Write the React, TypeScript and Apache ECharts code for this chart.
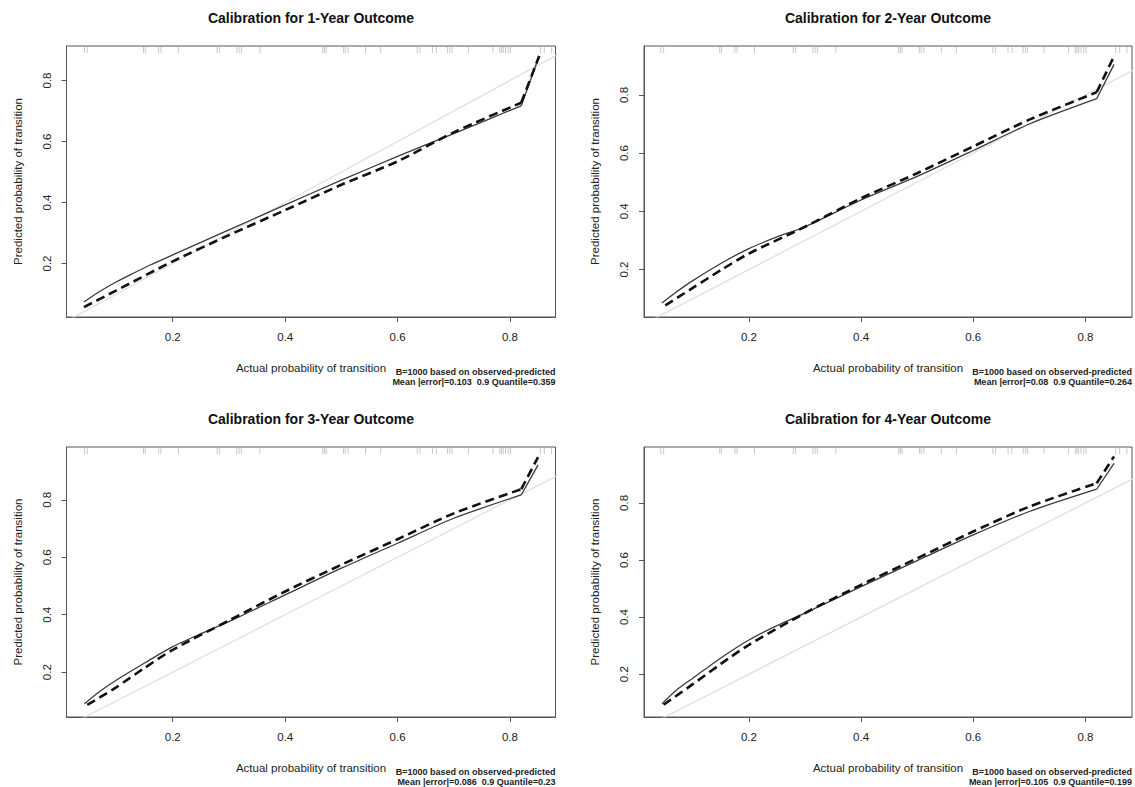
import React, { useEffect, useRef } from "react";
import * as echarts from "echarts";

const titles = [
  "Calibration for 1-Year Outcome",
  "Calibration for 2-Year Outcome",
  "Calibration for 3-Year Outcome",
  "Calibration for 4-Year Outcome",
];
const annot1 = "B=1000 based on observed-predicted";
const meanErr = [
  "Mean |error|=0.103  0.9 Quantile=0.359",
  "Mean |error|=0.08  0.9 Quantile=0.264",
  "Mean |error|=0.086  0.9 Quantile=0.23",
  "Mean |error|=0.105  0.9 Quantile=0.199",
];
const xName = "Actual probability of transition";
const yName = "Predicted probability of transition";
const tickValues = [0.2, 0.4, 0.6, 0.8];

const solid1X = [0.042, 0.07, 0.1, 0.13, 0.16, 0.2, 0.25, 0.3, 0.4, 0.5, 0.6, 0.7, 0.82, 0.852];
const solid1Y = [0.074, 0.108, 0.14, 0.168, 0.195, 0.228, 0.269, 0.31, 0.392, 0.473, 0.551, 0.626, 0.717, 0.88];
const dashed1X = [0.042, 0.1, 0.2, 0.3, 0.4, 0.5, 0.6, 0.7, 0.82, 0.852];
const dashed1Y = [0.057, 0.112, 0.207, 0.293, 0.375, 0.458, 0.535, 0.63, 0.727, 0.88];

const solid2X = [0.045, 0.07, 0.1, 0.15, 0.2, 0.25, 0.3, 0.4, 0.5, 0.6, 0.7, 0.82, 0.851];
const solid2Y = [0.085, 0.122, 0.162, 0.221, 0.272, 0.312, 0.347, 0.439, 0.52, 0.609, 0.7, 0.787, 0.905];
const dashed2X = [0.051, 0.1, 0.15, 0.2, 0.3, 0.4, 0.5, 0.6, 0.7, 0.82, 0.851];
const dashed2Y = [0.077, 0.137, 0.198, 0.255, 0.347, 0.445, 0.531, 0.623, 0.715, 0.809, 0.933];

const solid3X = [0.043, 0.07, 0.1, 0.15, 0.2, 0.25, 0.3, 0.4, 0.5, 0.6, 0.7, 0.82, 0.85];
const solid3Y = [0.09, 0.133, 0.173, 0.232, 0.289, 0.334, 0.376, 0.469, 0.562, 0.649, 0.736, 0.817, 0.922];
const dashed3X = [0.048, 0.1, 0.15, 0.2, 0.3, 0.4, 0.5, 0.6, 0.7, 0.82, 0.85];
const dashed3Y = [0.086, 0.148, 0.215, 0.278, 0.38, 0.481, 0.574, 0.663, 0.753, 0.837, 0.949];

const solid4X = [0.045, 0.07, 0.1, 0.15, 0.2, 0.25, 0.3, 0.4, 0.5, 0.6, 0.7, 0.82, 0.851];
const solid4Y = [0.096, 0.143, 0.186, 0.257, 0.32, 0.37, 0.414, 0.507, 0.598, 0.688, 0.77, 0.848, 0.939];
const dashed4X = [0.048, 0.1, 0.15, 0.2, 0.3, 0.4, 0.5, 0.6, 0.7, 0.82, 0.851];
const dashed4Y = [0.093, 0.165, 0.236, 0.303, 0.414, 0.513, 0.606, 0.7, 0.787, 0.869, 0.963];

const rugX = [
  0.043, 0.048, 0.148, 0.151, 0.175, 0.179, 0.21, 0.279, 0.283, 0.314, 0.318,
  0.322, 0.355, 0.467, 0.47, 0.473, 0.504, 0.507, 0.512, 0.543, 0.57, 0.635,
  0.64, 0.662, 0.669, 0.689, 0.693, 0.697, 0.726, 0.77, 0.782, 0.785, 0.788,
  0.792, 0.797, 0.801, 0.854, 0.861, 0.874,
];

const xRanges = [
  [0.011, 0.881],
  [0.013, 0.883],
  [0.011, 0.881],
  [0.013, 0.883],
];
const yRanges = [
  [0.0246, 0.913],
  [0.037, 0.968],
  [0.044, 0.984],
  [0.05, 0.996],
];

const solids = [
  [solid1X, solid1Y],
  [solid2X, solid2Y],
  [solid3X, solid3Y],
  [solid4X, solid4Y],
];
const dasheds = [
  [dashed1X, dashed1Y],
  [dashed2X, dashed2Y],
  [dashed3X, dashed3Y],
  [dashed4X, dashed4Y],
];

const grids = [
  { left: 66.5, top: 46, width: 489, height: 271 },
  { left: 644, top: 46, width: 488, height: 271 },
  { left: 66.5, top: 447, width: 489, height: 270 },
  { left: 644, top: 447, width: 488, height: 270 },
];

const FONT = "'Liberation Sans', Arial, Helvetica, sans-serif";

export default function App() {
  const ref = useRef<HTMLDivElement>(null);
  useEffect(() => {
    if (!ref.current) return;
    const chart = echarts.init(ref.current, null, { renderer: "svg" });
    const zip = (xs: number[], ys: number[]) => xs.map((x, i) => [x, ys[i]]);

    const xAxis: any[] = [];
    const yAxis: any[] = [];
    const series: any[] = [];
    const graphic: any[] = [];

    const addCurve = (i: number, pts: number[][], lineStyle: any, z: number) => {
      const n = pts.length;
      series.push({
        type: "line",
        xAxisIndex: i,
        yAxisIndex: i,
        data: pts.slice(0, n - 1),
        symbol: "none",
        smooth: 0.25,
        lineStyle,
        z,
      });
      series.push({
        type: "line",
        xAxisIndex: i,
        yAxisIndex: i,
        data: pts.slice(n - 2),
        symbol: "none",
        lineStyle,
        z,
      });
    };

    grids.forEach((g, i) => {
      xAxis.push({
        type: "value",
        gridIndex: i,
        min: xRanges[i][0],
        max: xRanges[i][1],
        splitLine: { show: false },
        axisLine: { show: true, lineStyle: { color: "#555", width: 1 } },
        axisTick: {
          show: true,
          customValues: tickValues,
          length: 5,
          lineStyle: { color: "#555" },
        },
        axisLabel: {
          customValues: tickValues,
          formatter: (v: number) => v.toFixed(1),
          fontFamily: FONT,
          fontSize: 11.5,
          color: "#222",
          margin: 14,
        },
      });
      yAxis.push({
        type: "value",
        gridIndex: i,
        min: yRanges[i][0],
        max: yRanges[i][1],
        splitLine: { show: false },
        axisLine: { show: true, lineStyle: { color: "#555", width: 1 } },
        axisTick: {
          show: true,
          customValues: tickValues,
          length: 5,
          lineStyle: { color: "#555" },
        },
        axisLabel: {
          customValues: tickValues,
          formatter: (v: number) => v.toFixed(1),
          fontFamily: FONT,
          fontSize: 11.5,
          color: "#222",
          rotate: 90,
          margin: 14,
        },
      });
      series.push({
        type: "line",
        xAxisIndex: i,
        yAxisIndex: i,
        data: [
          [0, 0],
          [1, 1],
        ],
        symbol: "none",
        clip: true,
        lineStyle: { color: "#dedede", width: 1.2 },
        silent: true,
        z: 1,
      });
      addCurve(i, zip(solids[i][0], solids[i][1]), { color: "#3a3a3a", width: 1.3 }, 3);
      addCurve(
        i,
        zip(dasheds[i][0], dasheds[i][1]),
        { color: "#111", width: 2.6, type: [9, 5] },
        4
      );
      series.push({
        type: "custom",
        xAxisIndex: i,
        yAxisIndex: i,
        clip: false,
        data: rugX.map((x) => [x, yRanges[i][1]]),
        renderItem: (params: any, api: any) => {
          const p = api.coord([api.value(0), api.value(1)]);
          return {
            type: "line",
            shape: { x1: p[0], y1: p[1] + 1, x2: p[0], y2: p[1] + 7 },
            style: { stroke: "#c8c8c8", lineWidth: 1 },
          };
        },
        z: 2,
      });

      const cx = g.left + g.width / 2;
      const cy = g.top + g.height / 2;
      const right = g.left + g.width;
      const base = g.top + g.height;
      graphic.push({
        type: "text",
        x: cx,
        y: g.top - 28,
        style: {
          text: titles[i],
          font: `bold 14px ${FONT}`,
          fill: "#111",
          textAlign: "center",
          textVerticalAlign: "middle",
        },
      });
      graphic.push({
        type: "text",
        x: cx,
        y: base + 50.5,
        style: {
          text: xName,
          font: `11.5px ${FONT}`,
          fill: "#222",
          textAlign: "center",
          textVerticalAlign: "middle",
        },
      });
      graphic.push({
        type: "text",
        x: g.left - 49,
        y: cy,
        rotation: Math.PI / 2,
        style: {
          text: yName,
          font: `11.5px ${FONT}`,
          fill: "#222",
          textAlign: "center",
          textVerticalAlign: "middle",
        },
      });
      graphic.push({
        type: "text",
        x: right,
        y: base + 54.6,
        style: {
          text: annot1,
          font: `bold 9px ${FONT}`,
          fill: "#222",
          textAlign: "right",
          textVerticalAlign: "middle",
        },
      });
      graphic.push({
        type: "text",
        x: right,
        y: base + 64.6,
        style: {
          text: meanErr[i],
          font: `bold 9px ${FONT}`,
          fill: "#222",
          textAlign: "right",
          textVerticalAlign: "middle",
        },
      });
    });

    chart.setOption({
      animation: false,
      backgroundColor: "#fff",
      grid: grids.map((g) => ({
        ...g,
        show: true,
        borderColor: "#555",
        borderWidth: 1,
        backgroundColor: "transparent",
        containLabel: false,
      })),
      xAxis,
      yAxis,
      series,
      graphic,
    });
    return () => chart.dispose();
  }, []);
  return (
    <div
      ref={ref}
      style={{ position: "absolute", left: 0, top: 0, width: 1135, height: 787 }}
    />
  );
}
